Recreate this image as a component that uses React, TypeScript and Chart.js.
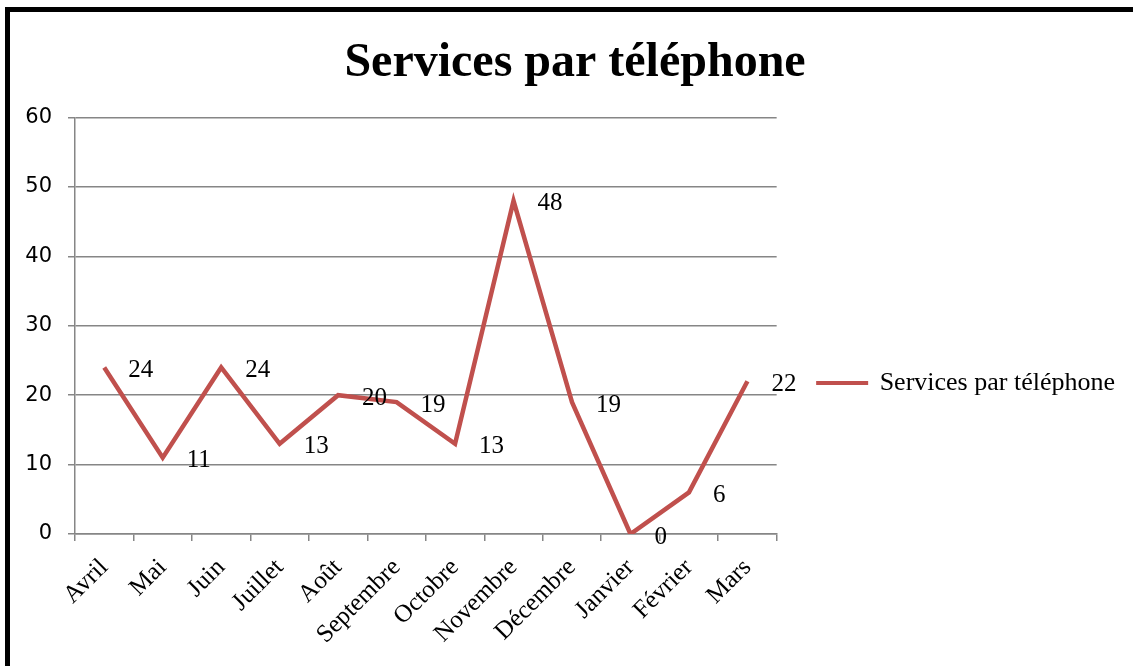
import { useEffect, useRef } from "react";
import { Chart, registerables } from "chart.js";

Chart.register(...registerables);

const categories = [
  "Avril", "Mai", "Juin", "Juillet", "Août", "Septembre",
  "Octobre", "Novembre", "Décembre", "Janvier", "Février", "Mars",
];
const values = [24, 11, 24, 13, 20, 19, 13, 48, 19, 0, 6, 22];
const seriesName = "Services par téléphone";
const chartTitle = "Services par téléphone";
const yMin = 0;
const yMax = 60;
const yStep = 10;

const SERIF = "'Liberation Serif', 'Times New Roman', serif";
const SANS = "'DejaVu Sans', sans-serif";
const LINE = "#C0504D";
const GRID = "#868686";

const dataLabels = {
  id: "dataLabels",
  afterDatasetsDraw(chart: any) {
    const ctx = chart.ctx;
    const meta = chart.getDatasetMeta(0);
    ctx.save();
    ctx.font = `25px ${SERIF}`;
    ctx.fillStyle = "#000";
    ctx.textAlign = "left";
    ctx.textBaseline = "middle";
    meta.data.forEach((pt: any, i: number) => {
      ctx.fillText(String(values[i]), pt.x + 24, pt.y + 3);
    });
    ctx.restore();
  },
};

export default function App() {
  const ref = useRef<HTMLCanvasElement | null>(null);

  useEffect(() => {
    if (!ref.current) return;
    const chart = new Chart(ref.current, {
      type: "line",
      data: {
        labels: categories,
        datasets: [
          {
            label: seriesName,
            data: values,
            borderColor: LINE,
            backgroundColor: LINE,
            borderWidth: 4.5,
            pointRadius: 0,
            tension: 0,
            fill: false,
          },
        ],
      },
      plugins: [dataLabels],
      options: {
        animation: false,
        responsive: true,
        maintainAspectRatio: false,
        layout: { padding: { left: 25, right: 8, top: 0, bottom: 0 } },
        plugins: {
          tooltip: { enabled: false },
          title: {
            display: true,
            text: chartTitle,
            color: "#000",
            font: { family: SERIF, size: 48, weight: "bold" },
            padding: { top: 35, bottom: 25 },
          },
          legend: {
            position: "right",
            maxWidth: 420,
            title: {
              display: true,
              text: "",
              font: { size: 10 },
              padding: { top: 44, bottom: 44 },
            },
            labels: {
              color: "#000",
              font: { family: SERIF, size: 26 },
              boxWidth: 49,
              boxHeight: 1,
              padding: 41,
              generateLabels: () => [
                {
                  text: seriesName,
                  fillStyle: LINE,
                  strokeStyle: LINE,
                  fontColor: "#000",
                  lineWidth: 3,
                  hidden: false,
                  datasetIndex: 0,
                } as any,
              ],
            },
          },
        },
        scales: {
          x: {
            type: "category",
            offset: true,
            grid: {
              offset: true,
              drawOnChartArea: false,
              drawTicks: true,
              tickLength: 7,
              color: GRID,
              lineWidth: 1.5,
            },
            border: { color: GRID, width: 1.5 },
            ticks: {
              color: "#000",
              font: { family: SERIF, size: 25 },
              maxRotation: 45,
              minRotation: 45,
              autoSkip: false,
              padding: 12,
            },
            afterFit: (s: any) => {
              s.height = 132;
            },
          },
          y: {
            min: yMin,
            max: yMax,
            ticks: {
              stepSize: yStep,
              color: "#000",
              font: { family: SANS, size: 21 },
              padding: 16,
            },
            grid: {
              color: GRID,
              lineWidth: 1.5,
              tickLength: 7,
            },
            border: { color: GRID, width: 1.5 },
            afterFit: (s: any) => {
              s.width = 50;
            },
          },
        },
      },
    });
    return () => chart.destroy();
  }, []);

  return (
    <div style={{ position: "absolute", left: 0, top: 0, width: 1133, height: 666, background: "#fff" }}>
      <canvas ref={ref} />
      <div
        style={{
          position: "absolute",
          left: 5,
          top: 7,
          width: 1200,
          height: 656,
          borderTop: "5px solid #000",
          borderLeft: "5px solid #000",
          borderBottom: "1px solid #ddd",
          pointerEvents: "none",
        }}
      />
    </div>
  );
}
